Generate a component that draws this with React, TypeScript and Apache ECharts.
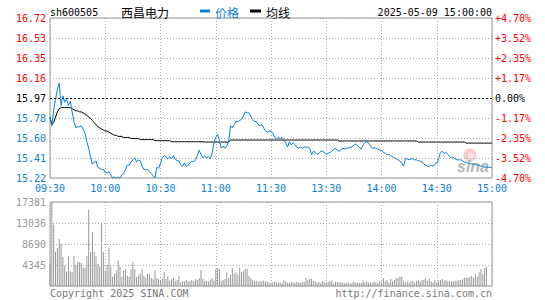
import React, { useEffect, useRef } from "react";
import * as echarts from "echarts";

// ---- data ----
const stockCode = "sh600505";
const stockName = "西昌电力";
const dateTime = "2025-05-09 15:00:00";
const prevClose = 15.97;
const priceMin = 15.22;
const priceMax = 16.72;
const volMax = 17381;

const priceTickLabels = ["15.22", "15.41", "15.60", "15.78", "15.97", "16.16", "16.35", "16.53", "16.72"];
const pctTickLabels = ["-4.70%", "-3.52%", "-2.35%", "-1.17%", "0.00%", "+1.17%", "+2.35%", "+3.52%", "+4.70%"];
const volTickLabels = ["", "4345", "8690", "13036", "17381"];
const timeTickLabels = ["09:30", "10:00", "10:30", "11:00", "11:30", "13:30", "14:00", "14:30", "15:00"];

const price = [
  15.79, 15.71, 15.86, 15.96, 16.05, 16.11, 15.90, 15.99, 15.93, 15.96,
  15.90, 15.94, 15.84, 15.75, 15.69, 15.70, 15.70, 15.71, 15.68, 15.64,
  15.56, 15.50, 15.42, 15.35, 15.37, 15.38, 15.32, 15.31, 15.30, 15.30,
  15.27, 15.27, 15.28, 15.25, 15.22, 15.23, 15.22, 15.23, 15.22, 15.25,
  15.26, 15.30, 15.34, 15.34, 15.37, 15.39, 15.41, 15.37, 15.39, 15.38,
  15.33, 15.30, 15.30, 15.30, 15.28, 15.26, 15.24, 15.22, 15.32, 15.31,
  15.36, 15.41, 15.43, 15.42, 15.40, 15.42, 15.40, 15.43, 15.40, 15.38,
  15.38, 15.34, 15.33, 15.36, 15.33, 15.34, 15.36, 15.38, 15.37, 15.39,
  15.43, 15.48, 15.44, 15.41, 15.43, 15.41, 15.42, 15.40, 15.45, 15.55,
  15.60, 15.63, 15.57, 15.50, 15.52, 15.50, 15.52, 15.56, 15.71, 15.69,
  15.72, 15.75, 15.75, 15.76, 15.77, 15.80, 15.84, 15.83, 15.83, 15.80,
  15.77, 15.75, 15.75, 15.72, 15.71, 15.72, 15.69, 15.66, 15.65, 15.66,
  15.66, 15.64, 15.60, 15.59, 15.60, 15.59, 15.60, 15.58, 15.55, 15.51,
  15.56, 15.53, 15.55, 15.53, 15.51, 15.50, 15.51, 15.50, 15.51, 15.51,
  15.51, 15.50, 15.44, 15.47, 15.46, 15.44, 15.45, 15.47, 15.47, 15.46,
  15.44, 15.45, 15.46, 15.47, 15.49, 15.50, 15.48, 15.47, 15.48, 15.50,
  15.49, 15.50, 15.50, 15.51, 15.51, 15.53, 15.54, 15.52, 15.51, 15.49,
  15.53, 15.55, 15.56, 15.55, 15.52, 15.50, 15.50, 15.50, 15.49, 15.48,
  15.48, 15.46, 15.45, 15.44, 15.44, 15.43, 15.42, 15.41, 15.40, 15.39,
  15.38, 15.36, 15.33, 15.40, 15.40, 15.39, 15.40, 15.40, 15.39, 15.39,
  15.38, 15.38, 15.37, 15.35, 15.34, 15.33, 15.33, 15.34, 15.33, 15.35,
  15.36, 15.40, 15.46, 15.47, 15.45, 15.46, 15.44, 15.42, 15.41, 15.41,
  15.40, 15.39, 15.39, 15.39, 15.38, 15.37, 15.37, 15.36, 15.36, 15.35,
  15.35, 15.35, 15.34, 15.34, 15.33, 15.33, 15.33, 15.32, 15.32, 15.32,
  15.32,
];

const avgPrice = [
  15.79, 15.72, 15.74, 15.79, 15.84, 15.87, 15.88, 15.88, 15.88, 15.88,
  15.88, 15.88, 15.87, 15.86, 15.85, 15.85, 15.84, 15.84, 15.83, 15.82,
  15.81, 15.79, 15.78, 15.76, 15.74, 15.72, 15.70, 15.69, 15.68, 15.67,
  15.66, 15.66, 15.65, 15.64, 15.63, 15.62, 15.62, 15.61, 15.61, 15.61,
  15.60, 15.60, 15.60, 15.60, 15.59, 15.59, 15.59, 15.59, 15.59, 15.58,
  15.58, 15.58, 15.58, 15.58, 15.58, 15.58, 15.58, 15.57, 15.57, 15.57,
  15.57, 15.57, 15.57, 15.57, 15.57, 15.57, 15.56, 15.56, 15.56, 15.56,
  15.56, 15.56, 15.56, 15.56, 15.56, 15.56, 15.56, 15.56, 15.56, 15.56,
  15.56, 15.56, 15.56, 15.56, 15.557, 15.557, 15.557, 15.557, 15.557, 15.557,
  15.557, 15.557, 15.557, 15.557, 15.557, 15.557, 15.557, 15.557, 15.576, 15.576,
  15.576, 15.576, 15.576, 15.576, 15.576, 15.576, 15.576, 15.576, 15.576, 15.576,
  15.576, 15.576, 15.576, 15.576, 15.576, 15.576, 15.576, 15.576, 15.576, 15.576,
  15.576, 15.576, 15.576, 15.576, 15.576, 15.576, 15.576, 15.576, 15.576, 15.576,
  15.576, 15.576, 15.576, 15.576, 15.576, 15.576, 15.576, 15.576, 15.576, 15.576,
  15.576, 15.576, 15.576, 15.576, 15.576, 15.576, 15.576, 15.576, 15.576, 15.576,
  15.576, 15.576, 15.576, 15.576, 15.576, 15.576, 15.576, 15.567, 15.567, 15.567,
  15.567, 15.567, 15.567, 15.567, 15.567, 15.567, 15.567, 15.567, 15.567, 15.567,
  15.567, 15.567, 15.567, 15.567, 15.567, 15.567, 15.567, 15.567, 15.567, 15.567,
  15.567, 15.567, 15.567, 15.567, 15.567, 15.567, 15.567, 15.567, 15.567, 15.567,
  15.567, 15.567, 15.567, 15.567, 15.567, 15.567, 15.567, 15.567, 15.567, 15.567,
  15.557, 15.557, 15.557, 15.557, 15.557, 15.557, 15.557, 15.557, 15.557, 15.557,
  15.557, 15.557, 15.557, 15.557, 15.557, 15.557, 15.557, 15.557, 15.557, 15.557,
  15.557, 15.557, 15.557, 15.557, 15.557, 15.557, 15.547, 15.547, 15.547, 15.547,
  15.547, 15.547, 15.547, 15.547, 15.547, 15.547, 15.547, 15.547, 15.547, 15.547,
  15.547,
];

const volume = [
  4680, 17381, 12700, 7100, 7850, 9700, 8820, 6060, 4200, 2960,
  6060, 3170, 2820, 6270, 4410, 5030, 4890, 4750, 3790, 3790,
  6270, 15790, 6960, 11100, 7100, 6130, 4550, 3990, 13030, 6960,
  3170, 4410, 7860, 3990, 1920, 2480, 3170, 5230, 3990, 1920,
  3170, 3510, 2130, 1920, 3510, 5030, 3510, 1790, 2130, 2610,
  3510, 2130, 1640, 2610, 2480, 1640, 1440, 3170, 1640, 1440,
  1100, 1570, 2820, 1440, 2130, 1100, 1440, 1640, 1100, 1230,
  2130, 750, 1030, 960, 1230, 1030, 960, 1230, 960, 1440,
  1230, 1640, 3370, 1440, 1100, 960, 960, 1230, 1640, 1100,
  3440, 3710, 3510, 1100, 1230, 1440, 2820, 1640, 2260, 3710,
  2480, 2820, 2330, 3710, 2820, 3170, 3510, 3510, 2130, 1640,
  1230, 1100, 1100, 880, 960, 960, 1100, 960, 820, 750,
  540, 750, 960, 750, 680, 750, 540, 1230, 960, 680,
  680, 880, 750, 680, 880, 750, 680, 750, 880, 1640,
  1230, 1570, 1440, 1100, 960, 680, 820, 680, 1100, 750,
  680, 820, 960, 1100, 540, 880, 880, 680, 820, 680,
  610, 680, 750, 540, 680, 820, 680, 750, 610, 680,
  1100, 680, 960, 680, 750, 610, 820, 750, 610, 960,
  750, 1640, 960, 1230, 750, 1440, 960, 1230, 1640, 1640,
  1920, 1920, 1100, 750, 820, 680, 960, 1100, 750, 1100,
  1230, 960, 1230, 1370, 1640, 1100, 1500, 960, 750, 1230,
  750, 1100, 1230, 1440, 1100, 1230, 960, 960, 960, 960,
  1100, 1100, 1230, 1230, 1370, 1640, 1780, 1650, 1920, 2130,
  1650, 2470, 1920, 2820, 3510, 2470, 3720, 3990, 0, 0,
  0,
];

// ---- styles ----
const BLUE = "#0a80d2";
const RED = "#ff0000";
const GRIDC = "#aaaaaa";
const FRAME = "#999999";
const MONO = "'DejaVu Sans Mono', monospace";
const CJK = "'Noto Sans CJK SC', sans-serif";

const priceStep = 0.1875;
const pctStep = 1.175;
const volStep = volMax / 4;

const idxColor = (i: number) => (i < 4 ? BLUE : i === 4 ? "#000000" : RED);

export default function App() {
  const ref = useRef<HTMLDivElement>(null);

  useEffect(() => {
    if (!ref.current) return;
    const chart = echarts.init(ref.current, undefined, { renderer: "svg" });
    const dotted = { color: GRIDC, type: [1, 2] as any, width: 1 };

    const option: any = {
      animation: false,
      backgroundColor: "#ffffff",
      grid: [
        { left: 50, top: 18, width: 442, height: 160, show: true, borderColor: FRAME, borderWidth: 1 },
        { left: 50, top: 202, width: 442, height: 84, show: true, borderColor: FRAME, borderWidth: 1 },
      ],
      xAxis: [
        {
          type: "value", gridIndex: 0, min: 0, max: 240, interval: 30,
          axisLine: { show: false }, axisTick: { show: false },
          splitLine: { show: true, lineStyle: dotted },
          axisLabel: {
            show: true, showMinLabel: true, showMaxLabel: true, margin: 5,
            color: BLUE, fontFamily: MONO, fontSize: 10,
            formatter: (v: number) => timeTickLabels[Math.round(v / 30)] ?? "",
          },
        },
        {
          type: "value", gridIndex: 1, min: 0, max: 240, interval: 30,
          axisLine: { show: false }, axisTick: { show: false },
          splitLine: { show: true, lineStyle: dotted },
          axisLabel: { show: false },
        },
      ],
      yAxis: [
        {
          type: "value", gridIndex: 0, min: priceMin, max: priceMax, interval: priceStep,
          axisLine: { show: false }, axisTick: { show: false },
          splitLine: { show: true, lineStyle: dotted },
          axisLabel: {
            margin: 4, fontFamily: MONO, fontSize: 10, showMinLabel: true, showMaxLabel: true,
            formatter: (v: number) => priceTickLabels[Math.round((v - priceMin) / priceStep)] ?? "",
            color: (v: number) => idxColor(Math.round((v - priceMin) / priceStep)),
          },
        },
        {
          type: "value", gridIndex: 0, position: "right", min: -4.7, max: 4.7, interval: pctStep,
          axisLine: { show: false }, axisTick: { show: false }, splitLine: { show: false },
          axisLabel: {
            margin: 3, fontFamily: MONO, fontSize: 10, showMinLabel: true, showMaxLabel: true,
            formatter: (v: number) => pctTickLabels[Math.round((v + 4.7) / pctStep)] ?? "",
            color: (v: number) => idxColor(Math.round((v + 4.7) / pctStep)),
          },
        },
        {
          type: "value", gridIndex: 1, min: 0, max: volMax, interval: volStep,
          axisLine: { show: false }, axisTick: { show: false },
          splitLine: { show: true, lineStyle: dotted },
          axisLabel: {
            margin: 4, fontFamily: MONO, fontSize: 10, color: "#999999", showMaxLabel: true,
            formatter: (v: number) => volTickLabels[Math.round(v / volStep)] ?? "",
          },
        },
      ],
      series: [
        {
          type: "bar", xAxisIndex: 1, yAxisIndex: 2, barWidth: 1, silent: true,
          itemStyle: { color: "#999999" },
          data: volume.map((v, i) => [i, v]),
        },
        {
          type: "line", xAxisIndex: 0, yAxisIndex: 0, symbol: "none", silent: true,
          lineStyle: { color: "#000000", width: 1 },
          data: avgPrice.map((v, i) => [i, v]),
        },
        {
          type: "line", xAxisIndex: 0, yAxisIndex: 0, symbol: "none", silent: true,
          lineStyle: { color: BLUE, width: 1 },
          data: price.map((v, i) => [i, v]),
          markLine: {
            silent: true, symbol: "none", label: { show: false },
            lineStyle: { color: "#000000", type: [2, 2], width: 1 },
            data: [{ yAxis: prevClose }],
          },
        },
      ],
      graphic: [
        { type: "text", x: 50, y: 12, style: { text: stockCode, font: `10px ${MONO}`, fill: "#000", align: "left", verticalAlign: "middle" } },
        { type: "text", x: 121, y: 12, style: { text: stockName, font: `12px ${CJK}`, fill: "#000", align: "left", verticalAlign: "middle" } },
        { type: "rect", shape: { x: 200, y: 9.5, width: 10, height: 3 }, style: { fill: BLUE } },
        { type: "text", x: 215, y: 12, style: { text: "价格", font: `12px ${CJK}`, fill: BLUE, align: "left", verticalAlign: "middle" } },
        { type: "rect", shape: { x: 250, y: 9.5, width: 11, height: 3 }, style: { fill: "#000" } },
        { type: "text", x: 266, y: 12, style: { text: "均线", font: `12px ${CJK}`, fill: "#000", align: "left", verticalAlign: "middle" } },
        { type: "text", x: 492, y: 12, style: { text: dateTime, font: `10px ${MONO}`, fill: "#000", align: "right", verticalAlign: "middle" } },
        { type: "text", x: 50, y: 293, style: { text: "Copyright 2025 SINA.COM", font: `10px ${MONO}`, fill: "#777", align: "left", verticalAlign: "middle" } },
        { type: "text", x: 492, y: 293, style: { text: "http://finance.sina.com.cn", font: `10px ${MONO}`, fill: "#777", align: "right", verticalAlign: "middle" } },
        { type: "circle", shape: { cx: 470, cy: 155, r: 6.5 }, style: { fill: "rgba(235,110,110,0.35)" } },
        { type: "circle", shape: { cx: 471, cy: 156, r: 3 }, style: { fill: "rgba(255,255,255,0.6)" } },
        { type: "text", x: 457, y: 166, style: { text: "sina", font: "italic bold 16px 'Liberation Sans', sans-serif", fill: "rgba(150,150,150,0.7)", align: "left", verticalAlign: "middle" } },
      ],
    };
    chart.setOption(option);
    return () => chart.dispose();
  }, []);

  return (
    <div
      ref={ref}
      style={{ position: "fixed", left: 0, top: 0, width: 545, height: 300, background: "#fff" }}
    />
  );
}
